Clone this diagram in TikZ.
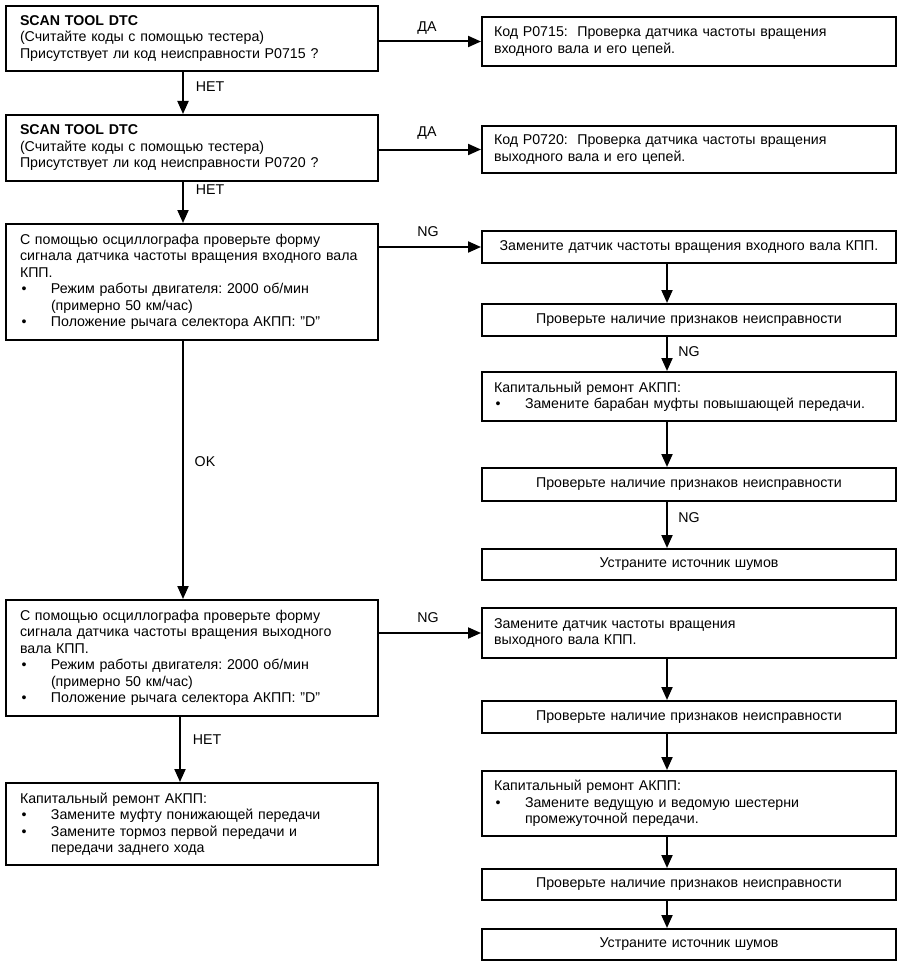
\documentclass[tikz,border=0pt]{standalone}
\usepackage{fontspec}
\setmainfont{Liberation Sans}
\usetikzlibrary{arrows.meta}
\newcommand{\bitem}{\makebox[31pt][l]{\hspace{1.5pt}\textbullet}}
\newcommand{\bcont}{\hspace*{31pt}}
\newcommand{\sq}{\symbol{34}}
\frenchspacing
\begin{document}
\begin{tikzpicture}[x=1pt,y=-1pt,
  txt/.style={font=\fontsize{14.2pt}{16.5pt}\selectfont},
  box/.style={txt, draw, line width=2pt, inner ysep=0pt},
  lbox/.style={box, inner xsep=14pt, text width=344pt, align=left},
  rbox/.style={box, inner xsep=12pt, text width=390pt, align=left},
  rcbox/.style={box, inner xsep=12pt, text width=390pt, align=center},
  lab/.style={txt, inner sep=0pt},
  arr/.style={line width=2pt, -{Triangle[length=13pt,width=11pt]}}]
\useasboundingbox (0,0) rectangle (899,963);

% left column
\node[lbox, minimum height=65pt] (L1) at (192,38.5)
  {\textbf{SCAN TOOL DTC}\\(Считайте коды с помощью тестера)\\Присутствует ли код неисправности P0715 ?};
\node[lbox, minimum height=66pt] (L2) at (192,148)
  {\textbf{SCAN TOOL DTC}\\(Считайте коды с помощью тестера)\\Присутствует ли код неисправности P0720 ?};
\node[lbox, minimum height=116pt] (L3) at (192,282)
  {\mbox{С помощью осциллографа проверьте форму}\\\mbox{сигнала датчика частоты вращения входного вала}\\КПП.\\\bitem Режим работы двигателя: 2000 об/мин\\\bcont(примерно 50 км/час)\\\bitem Положение рычага селектора АКПП: \sq D\sq};
\node[lbox, minimum height=116pt] (L4) at (192,658)
  {\mbox{С помощью осциллографа проверьте форму}\\\mbox{сигнала датчика частоты вращения выходного}\\вала КПП.\\\bitem Режим работы двигателя: 2000 об/мин\\\bcont(примерно 50 км/час)\\\bitem Положение рычага селектора АКПП: \sq D\sq};
\node[lbox, minimum height=82pt] (L5) at (192,824)
  {Капитальный ремонт АКПП:\\\bitem Замените муфту понижающей передачи\\\bitem Замените тормоз первой передачи и\\\bcont передачи заднего хода};

% right column
\node[rbox, minimum height=49pt] (R1) at (689,41.5)
  {Код P0715:\ \ Проверка датчика частоты вращения\\входного вала и его цепей.};
\node[rbox, minimum height=47pt] (R2) at (689,149.5)
  {Код P0720:\ \ Проверка датчика частоты вращения\\выходного вала и его цепей.};
\node[rcbox, minimum height=32pt] (R3) at (689,247)
  {\mbox{Замените датчик частоты вращения входного вала КПП.}};
\node[rcbox, minimum height=32pt] (R4) at (689,320)
  {Проверьте наличие признаков неисправности};
\node[rbox, minimum height=49pt] (R5) at (689,396.5)
  {Капитальный ремонт АКПП:\\\bitem Замените барабан муфты повышающей передачи.};
\node[rcbox, minimum height=33pt] (R6) at (689,484.5)
  {Проверьте наличие признаков неисправности};
\node[rcbox, minimum height=31pt] (R7) at (689,564.5)
  {Устраните источник шумов};
\node[rbox, minimum height=50pt] (R8) at (689,633)
  {Замените датчик частоты вращения\\выходного вала КПП.};
\node[rcbox, minimum height=32pt] (R9) at (689,717)
  {Проверьте наличие признаков неисправности};
\node[rbox, minimum height=65pt] (R10) at (689,803.5)
  {Капитальный ремонт АКПП:\\\bitem Замените ведущую и ведомую шестерни\\\bcont промежуточной передачи.};
\node[rcbox, minimum height=31pt] (R11) at (689,884.5)
  {Проверьте наличие признаков неисправности};
\node[rcbox, minimum height=31pt] (R12) at (689,944.5)
  {Устраните источник шумов};

% horizontal connectors
\draw[arr] (L1.east |- R1.west) -- (R1.west);
\draw[arr] (L2.east |- R2.west) -- (R2.west);
\draw[arr] (L3.east |- R3.west) -- (R3.west);
\draw[arr] (L4.east |- R8.west) -- (R8.west);
\node[lab] (t1) at (427,28) {ДА};
\node[lab] (t2) at (427,133) {ДА};
\node[lab] (t3) at (428,232) {NG};
\node[lab] (t4) at (428,618) {NG};

% left vertical connectors
\draw[arr] ([xshift=-9pt]L1.south) -- ([xshift=-9pt]L2.north);
\draw[arr] ([xshift=-9pt]L2.south) -- ([xshift=-9pt]L3.north);
\draw[arr] ([xshift=-9pt]L3.south) -- ([xshift=-9pt]L4.north);
\draw[arr] ([xshift=-12pt]L4.south) -- ([xshift=-12pt]L5.north);
\node[lab] (t5) at (210,87) {НЕТ};
\node[lab] (t6) at (210,190) {НЕТ};
\node[lab] (t7) at (205,462) {OK};
\node[lab] (t8) at (207,740) {НЕТ};

% right vertical connectors
\draw[arr] ([xshift=-22pt]R3.south) -- ([xshift=-22pt]R4.north);
\draw[arr] ([xshift=-22pt]R4.south) -- ([xshift=-22pt]R5.north);
\draw[arr] ([xshift=-22pt]R5.south) -- ([xshift=-22pt]R6.north);
\draw[arr] ([xshift=-22pt]R6.south) -- ([xshift=-22pt]R7.north);
\draw[arr] ([xshift=-22pt]R8.south) -- ([xshift=-22pt]R9.north);
\draw[arr] ([xshift=-22pt]R9.south) -- ([xshift=-22pt]R10.north);
\draw[arr] ([xshift=-22pt]R10.south) -- ([xshift=-22pt]R11.north);
\draw[arr] ([xshift=-22pt]R11.south) -- ([xshift=-22pt]R12.north);
\node[lab] (t9) at (689,352) {NG};
\node[lab] (t10) at (689,518) {NG};
\end{tikzpicture}
\end{document}
